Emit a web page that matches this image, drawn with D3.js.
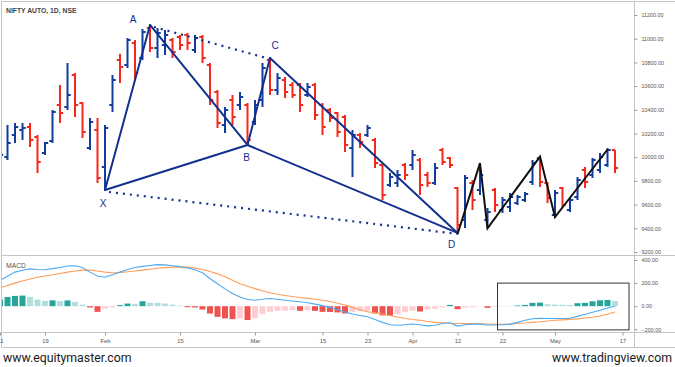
<!DOCTYPE html>
<html><head><meta charset="utf-8">
<script src="https://cdn.jsdelivr.net/npm/d3@7"></script>
<style>html,body{margin:0;padding:0;background:#fff;} svg{display:block;}</style>
</head><body><svg id="c" width="675" height="367"></svg>
<script>
// ---------- DATA ----------
const dates = [
"2021-01-11","2021-01-12","2021-01-13","2021-01-14","2021-01-15","2021-01-18","2021-01-19","2021-01-20","2021-01-21","2021-01-22","2021-01-25","2021-01-27","2021-01-28","2021-01-29",
"2021-02-01","2021-02-02","2021-02-03","2021-02-04","2021-02-05","2021-02-08","2021-02-09","2021-02-10","2021-02-11","2021-02-12","2021-02-15","2021-02-16","2021-02-17","2021-02-18","2021-02-19","2021-02-22","2021-02-23","2021-02-24","2021-02-25","2021-02-26",
"2021-03-01","2021-03-02","2021-03-03","2021-03-04","2021-03-05","2021-03-08","2021-03-09","2021-03-10","2021-03-12","2021-03-15","2021-03-16","2021-03-17","2021-03-18","2021-03-19","2021-03-22","2021-03-23","2021-03-24","2021-03-25","2021-03-26","2021-03-30","2021-03-31",
"2021-04-01","2021-04-05","2021-04-06","2021-04-07","2021-04-08","2021-04-09","2021-04-12","2021-04-13","2021-04-15","2021-04-16","2021-04-19","2021-04-20","2021-04-22","2021-04-23","2021-04-26","2021-04-27","2021-04-28","2021-04-29","2021-04-30",
"2021-05-03","2021-05-04","2021-05-05","2021-05-06","2021-05-07","2021-05-10","2021-05-11","2021-05-12","2021-05-14"];
const futureDates = ["2021-05-17","2021-05-18"];

const open  = [10010,10002,10188,10230,10255,10171,10036,10137,10441,10424,10694,10458,10078,10230,
 9918,10441,10821,10778,10964,10837,11091,10922,10947,10989,11015,11032,10905,11015,10778,10550,10272,10483,10441,10441,
 10297,10483,10821,10567,10652,10610,10610,10525,10610,10441,10399,10373,10339,10078,10188,10188,10145,9935,9766,9783,9935,
 9935,9977,9850,9783,10061,9994,9740,9470,9783,9723,9470,9723,9555,9580,9614,9639,9791,9994,9783,
 9512,9740,9555,9664,9892,9850,9892,9935,10061];
const high  = [10050,10272,10289,10289,10289,10188,10129,10399,10610,10795,10711,10466,10331,10331,
 10272,10694,10872,11006,10989,11082,11116,11091,11074,11006,11032,11048,11032,11032,10795,10567,10424,10525,10550,10458,
 10483,10795,10837,10711,10677,10635,10627,10627,10627,10458,10415,10382,10356,10230,10205,10272,10162,9951,9867,9892,9951,
 10061,9994,9875,9951,10078,10002,9749,9850,9808,9951,9572,9740,9664,9698,9681,9707,9977,10002,9791,
 9723,9749,9664,9833,9918,9994,10036,10078,10061];
const low   = [9980,9977,10120,10145,10086,9867,10019,10120,10289,10399,10339,10162,10061,9783,
 9723,10382,10627,10753,10652,10821,10888,10837,10863,10837,10905,10905,10880,10795,10441,10247,10205,10272,10399,10103,
 10272,10424,10525,10525,10500,10500,10382,10508,10314,10188,10297,10171,10044,9833,10078,10171,9909,9639,9749,9749,9808,
 9892,9681,9749,9766,9935,9909,9361,9403,9555,9681,9403,9538,9529,9538,9597,9622,9766,9749,9614,
 9487,9580,9538,9639,9740,9825,9867,9918,9867];
const close = [10020,10120,10255,10247,10145,9960,10120,10382,10373,10525,10441,10213,10297,9825,
 10247,10652,10761,10989,10711,11057,10922,11048,11032,10888,10947,10964,11006,10837,10483,10289,10399,10339,10508,10145,
 10441,10753,10567,10669,10550,10525,10441,10593,10356,10255,10331,10213,10103,10188,10129,10247,9951,9681,9833,9850,9850,
 10019,9766,9783,9909,9960,9935,9428,9825,9639,9850,9538,9597,9639,9664,9664,9690,9951,9791,9656,
 9698,9597,9639,9808,9791,9977,10002,10061,9909];

const macdLine = [223,260,295,312,323,318,315,325,335,348,350,335,295,262,
 251,272,295,318,335,345,352,360,358,350,343,330,315,290,240,195,150,110,80,58,
 51,60,66,60,52,45,38,30,18,5,-10,-28,-50,-68,-80,-92,-115,-140,-160,-165,-160,
 -154,-160,-170,-165,-150,-143,-172,-160,-155,-155,-163,-163,-160,-155,-140,-122,-108,-105,-106,
 -106,-106,-104,-88,-70,-52,-35,-15,0];
const signalLine = [160,180,200,218,235,250,262,272,283,295,305,312,312,305,
 295,290,292,298,305,312,320,328,334,338,340,338,330,318,300,280,255,225,195,172,
 152,132,116,103,93,84,76,68,60,52,40,26,10,-10,-30,-48,-58,-68,-80,-94,-106,
 -115,-122,-132,-140,-143,-148,-150,-150,-150,-152,-154,-156,-157,-156,-150,-145,-140,-135,-128,
 -122,-118,-114,-110,-102,-95,-85,-70,-50];
const histogram = [57,80,89,92,80,57,46,51,44,50,37,14,-11,-49,
 -20,-11,9,23,20,43,31,30,23,14,6,-9,-11,-29,-63,-92,-106,-112,-106,-120,
 -106,-69,-49,-40,-38,-34,-40,-34,-40,-49,-50,-54,-63,-49,-43,-40,-63,-80,-83,-69,-51,
 -40,-46,-29,-23,-11,11,-26,-11,-9,-3,-14,-6,-4,-3,6,11,29,31,17,
 14,12,11,26,29,43,51,54,46];

const priceTicks = [9200,9400,9600,9800,10000,10200,10400,10600,10800,11000,11200];
const macdTicks = [-200,0,200,400];
const timeTickDates  = ["2021-01-11","2021-01-19","2021-02-01","2021-02-15","2021-03-01","2021-03-15","2021-03-23","2021-04-01","2021-04-12","2021-04-22","2021-05-03","2021-05-17"];
const timeTickLabels = ["11","19","Feb","15","Mar","15","23","Apr","12","22","May","17"];

const patternLabels = ["X","A","B","C","D"];
const patternDates  = ["2021-02-01","2021-02-09","2021-02-26","2021-03-03","2021-04-12"];
const patternValues = [9723,11116,10103,10837,9361];
const patternSolid  = [["X","A"],["A","B"],["B","C"],["C","D"],["X","B"],["B","D"]];
const patternDotted = [["A","C"],["X","D"]];

const zigzagDates  = ["2021-04-12","2021-04-16","2021-04-19","2021-04-29","2021-05-03","2021-05-12"];
const zigzagValues = [9350,9950,9400,10005,9495,10065];

const boxDates = ["2021-04-22","2021-05-17"];
const boxValues = [200,-205];

// ---------- LAYOUT ----------
const W = 675, H = 367;
const axisX = 634.5;
const priceTop = 1.5, paneSep = 255.5, macdBottom = 332.5, timeBottom = 347.5;
const BLUE = "#123d9c", RED = "#f5291b", NAVY = "#12308f", GRID = "#c4c4c4", TXT = "#555";

const svg = d3.select("#c");
const x = d3.scalePoint().domain(dates.concat(futureDates)).range([0, 7.5*(dates.length+futureDates.length-1)]);
const y = d3.scaleLinear().domain([9200, 11200]).range([252, 15]);
const ym = d3.scaleLinear().domain([-200, 400]).range([329.3, 260]);

svg.append("defs").html(
 `<clipPath id="cp"><rect x="2" y="2" width="${axisX-2}" height="${paneSep-2}"/></clipPath>
  <clipPath id="cm"><rect x="2" y="${paneSep+0.5}" width="${axisX-2}" height="${macdBottom-paneSep-1}"/></clipPath>`);

// frame
const fr = svg.append("g").attr("stroke", GRID).attr("stroke-width", 1).attr("fill","none");
fr.append("line").attr("x1",1.5).attr("x2",W).attr("y1",priceTop).attr("y2",priceTop);
fr.append("line").attr("x1",1.5).attr("x2",W).attr("y1",paneSep).attr("y2",paneSep);
fr.append("line").attr("x1",1.5).attr("x2",W).attr("y1",macdBottom).attr("y2",macdBottom);
fr.append("line").attr("x1",1.5).attr("x2",W).attr("y1",timeBottom).attr("y2",timeBottom);
fr.append("line").attr("x1",1.5).attr("x2",1.5).attr("y1",priceTop).attr("y2",timeBottom);
fr.append("line").attr("x1",axisX).attr("x2",axisX).attr("y1",priceTop).attr("y2",timeBottom);

// price axis
const pa = svg.append("g").attr("transform",`translate(${axisX},0)`)
  .call(d3.axisRight(y).tickValues(priceTicks).tickSize(3).tickPadding(4).tickFormat(d3.format(".2f")));
pa.select(".domain").remove();
pa.selectAll("line").attr("stroke","#999");
pa.selectAll("text").attr("fill",TXT).style("font","5.4px 'Liberation Sans', Arial, sans-serif");

// macd axis
const ma = svg.append("g").attr("transform",`translate(${axisX},0)`)
  .call(d3.axisRight(ym).tickValues(macdTicks).tickSize(3).tickPadding(4).tickFormat(d3.format(".2f")));
ma.select(".domain").remove();
ma.selectAll("line").attr("stroke","#999");
ma.selectAll("text").attr("fill",TXT).style("font","5.4px 'Liberation Sans', Arial, sans-serif");

// time axis
const ta = svg.append("g").attr("transform",`translate(0,${macdBottom})`)
  .call(d3.axisBottom(x).tickValues(timeTickDates).tickSize(3).tickPadding(3)
    .tickFormat(d => timeTickLabels[timeTickDates.indexOf(d)]));
ta.select(".domain").remove();
ta.selectAll("line").attr("stroke","#999");
ta.selectAll("text").attr("fill",TXT).style("font","5.8px 'Liberation Sans', Arial, sans-serif");

// OHLC bars
const idx = d3.range(dates.length);
const bars = svg.append("g").attr("clip-path","url(#cp)").attr("stroke-width",2).attr("fill","none");
const bg = bars.selectAll("g").data(idx).join("g")
  .attr("stroke", i => close[i] >= open[i] ? BLUE : RED);
bg.append("line").attr("x1",i=>x(dates[i])).attr("x2",i=>x(dates[i]))
  .attr("y1",i=>y(high[i])).attr("y2",i=>y(low[i]));
bg.append("line").attr("x1",i=>x(dates[i])-3.2).attr("x2",i=>x(dates[i]))
  .attr("y1",i=>y(open[i])).attr("y2",i=>y(open[i]));
bg.append("line").attr("x1",i=>x(dates[i])).attr("x2",i=>x(dates[i])+3.2)
  .attr("y1",i=>y(close[i])).attr("y2",i=>y(close[i]));

// pattern
const pp = {};
patternLabels.forEach((l,i)=> pp[l] = [x(patternDates[i]), y(patternValues[i])]);
const pg = svg.append("g").attr("clip-path","url(#cp)");
pg.selectAll("line.s").data(patternSolid).join("line").attr("class","s")
  .attr("x1",d=>pp[d[0]][0]).attr("y1",d=>pp[d[0]][1]).attr("x2",d=>pp[d[1]][0]).attr("y2",d=>pp[d[1]][1])
  .attr("stroke",NAVY).attr("stroke-width",2).attr("stroke-linecap","round");
pg.selectAll("line.d").data(patternDotted).join("line").attr("class","d")
  .attr("x1",d=>pp[d[0]][0]+4).attr("y1",d=>pp[d[0]][1]+2).attr("x2",d=>pp[d[1]][0]).attr("y2",d=>pp[d[1]][1]+1)
  .attr("stroke",NAVY).attr("stroke-width",2.2).attr("stroke-dasharray","2,5");
const labelOffsets = {X:[-2,17], A:[-17,-2], B:[-1,16], C:[5,-9], D:[-6,15]};
svg.append("g").selectAll("text").data(patternLabels).join("text")
  .attr("x",l=>pp[l][0]+labelOffsets[l][0]).attr("y",l=>pp[l][1]+labelOffsets[l][1])
  .attr("text-anchor","middle").attr("fill",NAVY)
  .style("font","10px 'Liberation Sans', Arial, sans-serif").text(l=>l);

// zigzag
pg.append("path").datum(d3.range(zigzagDates.length))
  .attr("d", d3.line().x(i=>x(zigzagDates[i])).y(i=>y(zigzagValues[i])))
  .attr("fill","none").attr("stroke","#111").attr("stroke-width",2).attr("stroke-linejoin","miter");

// MACD pane
const mg = svg.append("g").attr("clip-path","url(#cm)");
const histColor = i => {
  const v = histogram[i], p = i>0 ? histogram[i-1] : v;
  if (v >= 0) return v >= p ? "#26a69a" : "#b2dfdb";
  return v <= p ? "#ef5350" : "#ffcdd2";
};
mg.selectAll("rect").data(idx).join("rect")
  .attr("x",i=>x(dates[i])-3).attr("width",6)
  .attr("y",i=>Math.min(ym(0), ym(histogram[i])))
  .attr("height",i=>Math.abs(ym(histogram[i])-ym(0)))
  .attr("fill",histColor);
mg.append("path").datum(idx).attr("d", d3.line().x(i=>x(dates[i])).y(i=>ym(signalLine[i])))
  .attr("fill","none").attr("stroke","#ff9d57").attr("stroke-width",1.1);
mg.append("path").datum(idx).attr("d", d3.line().x(i=>x(dates[i])).y(i=>ym(macdLine[i])))
  .attr("fill","none").attr("stroke","#4aabf5").attr("stroke-width",1.1);

// highlight box
svg.append("rect")
  .attr("x", x(boxDates[0])-5).attr("y", ym(boxValues[0]))
  .attr("width", x(boxDates[1])+6.5-(x(boxDates[0])-5))
  .attr("height", ym(boxValues[1])-ym(boxValues[0]))
  .attr("fill","none").attr("stroke","#333").attr("stroke-width",1);

// titles
svg.append("text").attr("x",6).attr("y",13).attr("fill","#444")
  .style("font","600 6.8px 'Liberation Sans', Arial, sans-serif").text("NIFTY AUTO, 1D, NSE");
svg.append("text").attr("x",6).attr("y",268).attr("fill","#555")
  .style("font","6.8px 'Liberation Sans', Arial, sans-serif").text("MACD");

// watermarks
svg.append("text").attr("x",3).attr("y",362).attr("fill","#1a1a1a")
  .style("font","12.3px Roboto, sans-serif").text("www.equitymaster.com");
svg.append("text").attr("x",672).attr("y",362).attr("text-anchor","end").attr("fill","#1a1a1a")
  .style("font","12.3px Roboto, sans-serif").text("www.tradingview.com");
</script></body></html>
